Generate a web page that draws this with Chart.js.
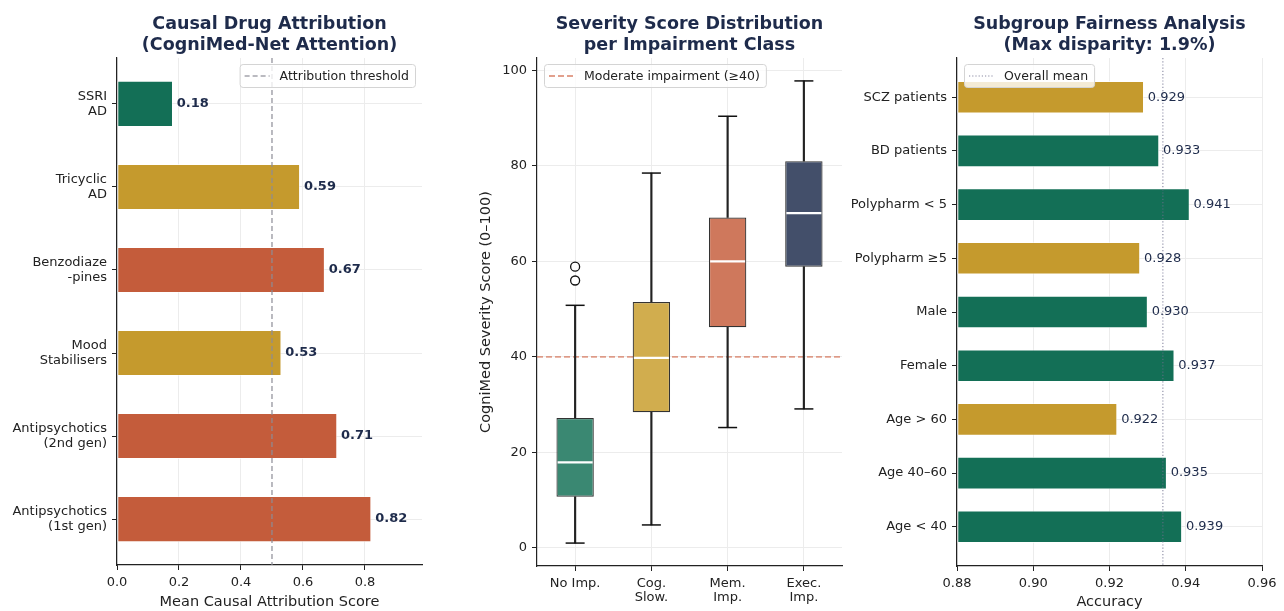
<!DOCTYPE html>
<html>
<head>
<meta charset="utf-8">
<script src="https://cdn.jsdelivr.net/npm/chart.js@4/dist/chart.umd.min.js"></script>
<style>
  html, body { margin: 0; padding: 0; background: #ffffff; }
  #wrap { position: relative; width: 1284px; height: 611px; overflow: hidden; }
  #wrap canvas { position: absolute; top: 0; }
</style>
</head>
<body>
<div id="wrap">
  <canvas id="attribution" width="430" height="611" style="left:0px"></canvas>
  <canvas id="severity" width="420" height="611" style="left:430px"></canvas>
  <canvas id="fairness" width="434" height="611" style="left:850px"></canvas>
</div>
<script>
// ---- Panel 1: causal drug attribution ----
const drugClasses = ['SSRI\nAD', 'Tricyclic\nAD', 'Benzodiaze\n-pines', 'Mood\nStabilisers',
                     'Antipsychotics\n(2nd gen)', 'Antipsychotics\n(1st gen)'];
const attributionScores = [0.18, 0.59, 0.67, 0.53, 0.71, 0.82];
const attributionThreshold = 0.5;
const attributionTicks = [0.0, 0.2, 0.4, 0.6, 0.8];

// ---- Panel 2: severity score distribution (box statistics) ----
const impairmentClasses = ['No Imp.', 'Cog.\nSlow.', 'Mem.\nImp.', 'Exec.\nImp.'];
const whiskerLow  = [1.0, 4.8, 25.2, 29.1];
const quartile1   = [10.7, 28.4, 46.2, 58.9];
const medianScore = [17.9, 39.8, 60.0, 70.1];
const quartile3   = [27.2, 51.5, 69.2, 81.0];
const whiskerHigh = [50.8, 78.5, 90.4, 97.8];
const outlierClass = [0, 0];
const outlierScore = [58.9, 56.0];
const moderateCutoff = 40;
const severityTicks = [0, 20, 40, 60, 80, 100];

// ---- Panel 3: subgroup fairness ----
const subgroups = ['SCZ patients', 'BD patients', 'Polypharm < 5', 'Polypharm \u22655', 'Male',
                   'Female', 'Age > 60', 'Age 40\u201360', 'Age < 40'];
const subgroupAccuracy = [0.929, 0.933, 0.941, 0.928, 0.930, 0.937, 0.922, 0.935, 0.939];
const overallMeanAccuracy = 0.934;
const accuracyTicks = [0.88, 0.90, 0.92, 0.94, 0.96];

// ---- styles ----
const FONT = 'DejaVu Sans';
const INK = '#222222';
const NAVY = '#1e2b4b';
const GRID = '#ececec';
const GREEN = '#136f56', GOLD = '#c59a2d', RED = '#c45c3b';
const drugColors = [GREEN, GOLD, RED, GOLD, RED, RED];
const boxColors = ['#3a8872', '#d1ad4e', '#cf785c', '#434f6a'];
const subgroupColors = [GOLD, GREEN, GREEN, GOLD, GREEN, GREEN, GOLD, GREEN, GREEN];

// Category limits for horizontal bars, padded 5% like the usual autoscale margin.
function barLimits(n, height) {
  const pad = (n - 1 + height) * 0.05;
  return { min: -height / 2 - pad, max: n - 1 + height / 2 + pad };
}

// Fixed axis box sizes so the three plot areas line up; label overhang is ignored.
function fixWidth(w) {
  return s => { s.width = w; s.paddingTop = 0; s.paddingBottom = 0; };
}
function fixHeight(h) {
  return s => { s.height = h; s.paddingLeft = 0; s.paddingRight = 0; };
}

// Text printed at the end of each bar of dataset 0.
const barValueLabels = {
  id: 'barValueLabels',
  afterDatasetsDraw(chart, args, opts) {
    const ds = chart.data.datasets[0];
    const meta = chart.getDatasetMeta(0);
    const ctx = chart.ctx;
    ctx.save();
    ctx.font = `${opts.weight} ${opts.size}px "${FONT}"`;
    ctx.fillStyle = opts.color;
    ctx.textAlign = 'left';
    ctx.textBaseline = 'middle';
    meta.data.forEach((bar, i) => {
      ctx.fillText(opts.format(ds.data[i].x), bar.x + opts.offset, bar.y);
    });
    ctx.restore();
  }
};

// Framed legend placed inside the plot area for a single reference line.
const insetLegend = {
  id: 'insetLegend',
  afterDraw(chart, args, opts) {
    const ds = chart.data.datasets[opts.datasetIndex];
    const a = chart.chartArea;
    const ctx = chart.ctx;
    ctx.save();
    ctx.font = `12.5px "${FONT}"`;
    const tw = ctx.measureText(ds.label).width;
    const padL = 5, sample = 25, gap = 10, padR = 6, h = 23;
    const w = padL + sample + gap + tw + padR;
    const x = opts.side === 'right' ? a.right - 7 - w : a.left + 7;
    const y = a.top + 6;
    ctx.beginPath();
    ctx.roundRect(x + 0.5, y + 0.5, w, h, 3);
    ctx.fillStyle = 'rgba(255,255,255,0.8)';
    ctx.fill();
    ctx.strokeStyle = '#d4d4d4';
    ctx.lineWidth = 1;
    ctx.stroke();
    ctx.beginPath();
    ctx.setLineDash(ds.borderDash || []);
    ctx.strokeStyle = ds.borderColor;
    ctx.lineWidth = ds.borderWidth;
    ctx.moveTo(x + padL, y + h / 2 + 0.5);
    ctx.lineTo(x + padL + sample, y + h / 2 + 0.5);
    ctx.stroke();
    ctx.setLineDash([]);
    ctx.fillStyle = INK;
    ctx.textAlign = 'left';
    ctx.textBaseline = 'middle';
    ctx.fillText(ds.label, x + padL + sample + gap, y + h / 2 + 1);
    ctx.restore();
  }
};

function titleOpts(lines) {
  return {
    display: true, text: lines, color: NAVY, fullSize: false,
    font: { family: FONT, size: 17.5, weight: 'bold', lineHeight: 1.2 },
    padding: { top: 13.5, bottom: 2.5 }
  };
}

const tickFont = { family: FONT, size: 13, lineHeight: 1.12 };
const axisTitleFont = { family: FONT, size: 14.5, lineHeight: 1.2 };
const border = { display: true, color: INK, width: 1.2 };

// Linear axis that carries category names at integer positions.
function categoryAxis(labels, lim, fit, extra) {
  return Object.assign({
    type: 'linear', min: lim.min, max: lim.max, offset: false,
    afterBuildTicks: s => { s.ticks = labels.map((_, i) => ({ value: i })); },
    afterFit: fit,
    ticks: { autoSkip: false, maxRotation: 0, color: INK, font: tickFont, padding: 5,
             callback: v => (labels[v] !== undefined ? labels[v].split('\n') : '') },
    grid: { color: GRID, tickColor: INK, tickLength: 5, lineWidth: 1, offset: false },
    border: border
  }, extra || {});
}

// Numeric axis with a fixed list of tick values.
function valueAxis(tickValues, min, max, fmt, fit, title, titlePad) {
  return {
    type: 'linear', min: min, max: max, offset: false,
    afterBuildTicks: s => { s.ticks = tickValues.map(v => ({ value: v })); },
    afterFit: fit,
    ticks: { autoSkip: false, maxRotation: 0, color: INK, font: tickFont, padding: 5,
             callback: v => fmt(v) },
    grid: { color: GRID, tickColor: INK, tickLength: 5, lineWidth: 1, offset: false },
    border: border,
    title: { display: !!title, text: title || '', color: INK, font: axisTitleFont, padding: titlePad }
  };
}

// ================= Panel 1 =================
const drugLim = barLimits(drugClasses.length, 0.55);
new Chart(document.getElementById('attribution'), {
  type: 'bar',
  data: {
    datasets: [
      {
        type: 'bar', label: 'Mean attribution',
        data: attributionScores.map((v, i) => ({ x: v, y: i })),
        backgroundColor: drugColors, borderColor: 'rgba(255,255,255,0.75)', borderWidth: 0.8,
        borderSkipped: false, barPercentage: 0.55, categoryPercentage: 1, order: 2
      },
      {
        type: 'line', label: 'Attribution threshold',
        data: [{ x: attributionThreshold, y: drugLim.min }, { x: attributionThreshold, y: drugLim.max }],
        borderColor: 'rgba(140,140,150,0.8)', borderWidth: 1.5, borderDash: [5, 3],
        pointRadius: 0, order: 1
      }
    ]
  },
  options: {
    indexAxis: 'y', responsive: false, animation: false, events: [],
    layout: { autoPadding: false, padding: { left: 0, right: 8, top: 0, bottom: 0 } },
    plugins: {
      legend: { display: false }, tooltip: { enabled: false },
      title: titleOpts(['Causal Drug Attribution', '(CogniMed-Net Attention)']),
      barValueLabels: { weight: 'bold', size: 13, color: NAVY, offset: 4, format: v => v.toFixed(2) },
      insetLegend: { datasetIndex: 1, side: 'right' }
    },
    scales: {
      x: valueAxis(attributionTicks, 0, 0.82 * 1.2, v => v.toFixed(1),
                   fixHeight(46), 'Mean Causal Attribution Score', { top: 0, bottom: 0 }),
      y: categoryAxis(drugClasses, drugLim, fixWidth(117), { reverse: true })
    }
  },
  plugins: [barValueLabels, insetLegend]
});

// ================= Panel 2 =================
const boxIndex = impairmentClasses.map((_, i) => i);
const capPoints = boxIndex.flatMap(i => [{ x: i, y: whiskerLow[i] }, { x: i, y: whiskerHigh[i] }]);
new Chart(document.getElementById('severity'), {
  type: 'bar',
  data: {
    datasets: [
      {
        type: 'line', label: 'Moderate impairment (\u226540)',
        data: [{ x: -0.5, y: moderateCutoff }, { x: impairmentClasses.length - 0.5, y: moderateCutoff }],
        borderColor: 'rgba(214,120,92,0.7)', borderWidth: 1.8, borderDash: [6, 3],
        pointRadius: 0, order: 10
      },
      {
        type: 'bar', label: 'lower whisker',
        data: boxIndex.map(i => ({ x: i, y: [whiskerLow[i], quartile1[i]] })),
        backgroundColor: INK, borderWidth: 0, barThickness: 1.5, grouped: false, order: 8
      },
      {
        type: 'bar', label: 'upper whisker',
        data: boxIndex.map(i => ({ x: i, y: [quartile3[i], whiskerHigh[i]] })),
        backgroundColor: INK, borderWidth: 0, barThickness: 1.5, grouped: false, order: 8
      },
      {
        type: 'bar', label: 'interquartile range',
        data: boxIndex.map(i => ({ x: i, y: [quartile1[i], quartile3[i]] })),
        backgroundColor: boxColors, borderColor: '#333333', borderWidth: 1.2, borderSkipped: false,
        barPercentage: 0.49, categoryPercentage: 1, grouped: false, order: 6
      },
      {
        type: 'line', label: 'caps', data: capPoints, showLine: false,
        pointStyle: 'line', pointRadius: 9.5, pointBorderWidth: 1.5, pointBorderColor: '#111111',
        order: 4
      },
      {
        type: 'line', label: 'median',
        data: boxIndex.map(i => ({ x: i, y: medianScore[i] })), showLine: false,
        pointStyle: 'line', pointRadius: 17.5, pointBorderWidth: 2.2, pointBorderColor: '#ffffff',
        order: 3
      },
      {
        type: 'line', label: 'outliers',
        data: outlierScore.map((v, k) => ({ x: outlierClass[k], y: v })), showLine: false,
        pointStyle: 'circle', pointRadius: 4.5, pointBorderWidth: 1.3,
        pointBorderColor: '#111111', pointBackgroundColor: '#ffffff', order: 2
      }
    ]
  },
  options: {
    responsive: false, animation: false, events: [],
    layout: { autoPadding: false, padding: { left: 0, right: 8, top: 0, bottom: 0 } },
    plugins: {
      legend: { display: false }, tooltip: { enabled: false },
      title: titleOpts(['Severity Score Distribution', 'per Impairment Class']),
      insetLegend: { datasetIndex: 0, side: 'left' }
    },
    scales: {
      x: categoryAxis(impairmentClasses, { min: -0.5, max: impairmentClasses.length - 0.5 },
                      fixHeight(45)),
      y: valueAxis(severityTicks, -3.8, 102.6, v => String(v),
                   fixWidth(107), 'CogniMed Severity Score (0\u2013100)', { top: 48, bottom: 0 })
    }
  },
  plugins: [insetLegend]
});

// ================= Panel 3 =================
const groupLim = barLimits(subgroups.length, 0.6);
const accMin = accuracyTicks[0], accMax = accuracyTicks[accuracyTicks.length - 1];
new Chart(document.getElementById('fairness'), {
  type: 'bar',
  data: {
    datasets: [
      {
        type: 'bar', label: 'Accuracy',
        data: subgroupAccuracy.map((v, i) => ({ x: v, y: i })),
        backgroundColor: subgroupColors, borderColor: 'rgba(255,255,255,0.75)', borderWidth: 0.8,
        borderSkipped: false, base: accMin, barPercentage: 0.6, categoryPercentage: 1, order: 2
      },
      {
        type: 'line', label: 'Overall mean',
        data: [{ x: overallMeanAccuracy, y: groupLim.min }, { x: overallMeanAccuracy, y: groupLim.max }],
        borderColor: 'rgba(110,110,140,0.8)', borderWidth: 1.1, borderDash: [1.2, 2],
        pointRadius: 0, order: 1
      }
    ]
  },
  options: {
    indexAxis: 'y', responsive: false, animation: false, events: [],
    layout: { autoPadding: false, padding: { left: 0, right: 22, top: 0, bottom: 0 } },
    plugins: {
      legend: { display: false }, tooltip: { enabled: false },
      title: titleOpts(['Subgroup Fairness Analysis', '(Max disparity: 1.9%)']),
      barValueLabels: { weight: 'normal', size: 13, color: NAVY, offset: 4, format: v => v.toFixed(3) },
      insetLegend: { datasetIndex: 1, side: 'left' }
    },
    scales: {
      x: valueAxis(accuracyTicks, accMin, accMax, v => v.toFixed(2),
                   fixHeight(45), 'Accuracy', { top: 0, bottom: 0 }),
      y: categoryAxis(subgroups, groupLim, fixWidth(107), { reverse: true })
    }
  },
  plugins: [barValueLabels, insetLegend]
});
</script>
</body>
</html>
